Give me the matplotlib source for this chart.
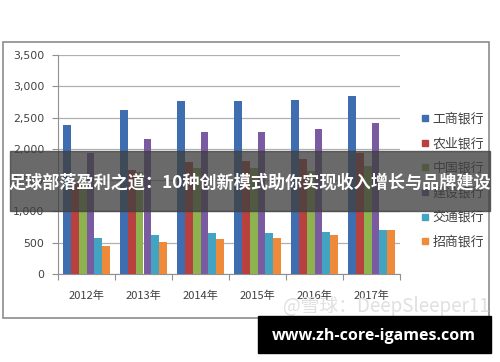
import matplotlib
matplotlib.use("Agg")
import matplotlib.pyplot as plt
from matplotlib.patches import Rectangle
from matplotlib.lines import Line2D
import numpy as np

plt.rcParams['font.family'] = ['Noto Sans CJK SC', 'DejaVu Sans']

# 数据（单位：亿元）
years = ['2012年', '2013年', '2014年', '2015年', '2016年', '2017年']
banks = ['工商银行', '农业银行', '中国银行', '建设银行', '交通银行', '招商银行']
icbc = [2380, 2620, 2760, 2770, 2780, 2850]
abc = [1450, 1660, 1790, 1800, 1840, 1930]
boc = [1450, 1630, 1700, 1700, 1650, 1720]
ccb = [1930, 2150, 2270, 2270, 2310, 2420]
bocom = [580, 620, 650, 660, 670, 700]
cmb = [450, 510, 560, 570, 620, 700]
series = [icbc, abc, boc, ccb, bocom, cmb]
colors = ['#3E6EB0', '#B8413F', '#8EB34E', '#7A5AA0', '#43A4C2', '#EE8A3A']

fig = plt.figure(figsize=(5, 3.62), dpi=100)
# 外框
fig.patches.append(Rectangle((3 / 500, 1 - 318 / 362), 486 / 500, 276 / 362,
                             transform=fig.transFigure, fill=False,
                             edgecolor='#8c8c8c', linewidth=1.2))

ax = fig.add_axes([58 / 500, 1 - 274 / 362, 342 / 500, 219 / 362])
x = np.arange(len(years))
w = 0.14
for i, (vals, c) in enumerate(zip(series, colors)):
    ax.bar(x - 2.5 * w + i * w, vals, width=w, color=c, label=banks[i], zorder=3)

ax.set_xlim(-0.5, len(years) - 0.5)
ax.set_ylim(0, 3500)
ax.set_yticks(range(0, 3501, 500))
ax.set_yticklabels([f'{v:,}' for v in range(0, 3501, 500)], fontsize=7.8, color='#404040',
                   family=['DejaVu Sans'])
ax.yaxis.grid(True, color='#b0b0b0', linewidth=0.9, zorder=0)
ax.set_xticks(np.arange(-0.5, len(years), 1))
ax.set_xticklabels([])
ax.set_xticks(x, minor=True)
ax.set_xticklabels(years, minor=True, fontsize=8, color='#404040')
ax.tick_params(axis='x', which='minor', length=0, pad=12)
ax.tick_params(axis='x', which='major', length=4, color='#909090', direction='out')
ax.tick_params(axis='y', length=4, color='#909090', pad=6)
for s in ['top', 'right']:
    ax.spines[s].set_visible(False)
ax.spines['left'].set_color('#909090')
ax.spines['bottom'].set_color('#909090')

# 图例
handles = [Line2D([], [], marker='s', linestyle='', color=c, markersize=5) for c in colors]
fig.legend(handles, banks, loc='upper left', bbox_to_anchor=(408 / 500, 1 - 101 / 362),
           frameon=False, fontsize=9.3, labelspacing=0.9, handletextpad=0.2,
           handlelength=0.8, labelcolor='#404040')

# 水印
fig.text(490 / 500, 1 - 306 / 362, '@雪球：DeepSleeper11', ha='right', va='center',
         fontsize=13.5, color='#e0e0e0', zorder=5)

# 标题横幅
fig.patches.append(Rectangle((10 / 500, 1 - 211 / 362), 480 / 500, 60 / 362,
                             transform=fig.transFigure, color='#404040', alpha=0.78, zorder=10))
fig.text(250 / 500, 1 - 183 / 362, '足球部落盈利之道：10种创新模式助你实现收入增长与品牌建设',
         ha='center', va='center', fontsize=12.3, fontweight='bold', color='white', zorder=11)

# 底部网址
fig.patches.append(Rectangle((258 / 500, 1 - 353 / 362), 233 / 500, 37 / 362,
                             transform=fig.transFigure, color='black', zorder=10))
fig.text(374 / 500, 1 - 336 / 362, 'www.zh-core-igames.com', ha='center', va='center',
         fontsize=11.5, fontweight='bold', color='white', family=['Open Sans'], zorder=11)

plt.savefig('out.png', dpi=100)
